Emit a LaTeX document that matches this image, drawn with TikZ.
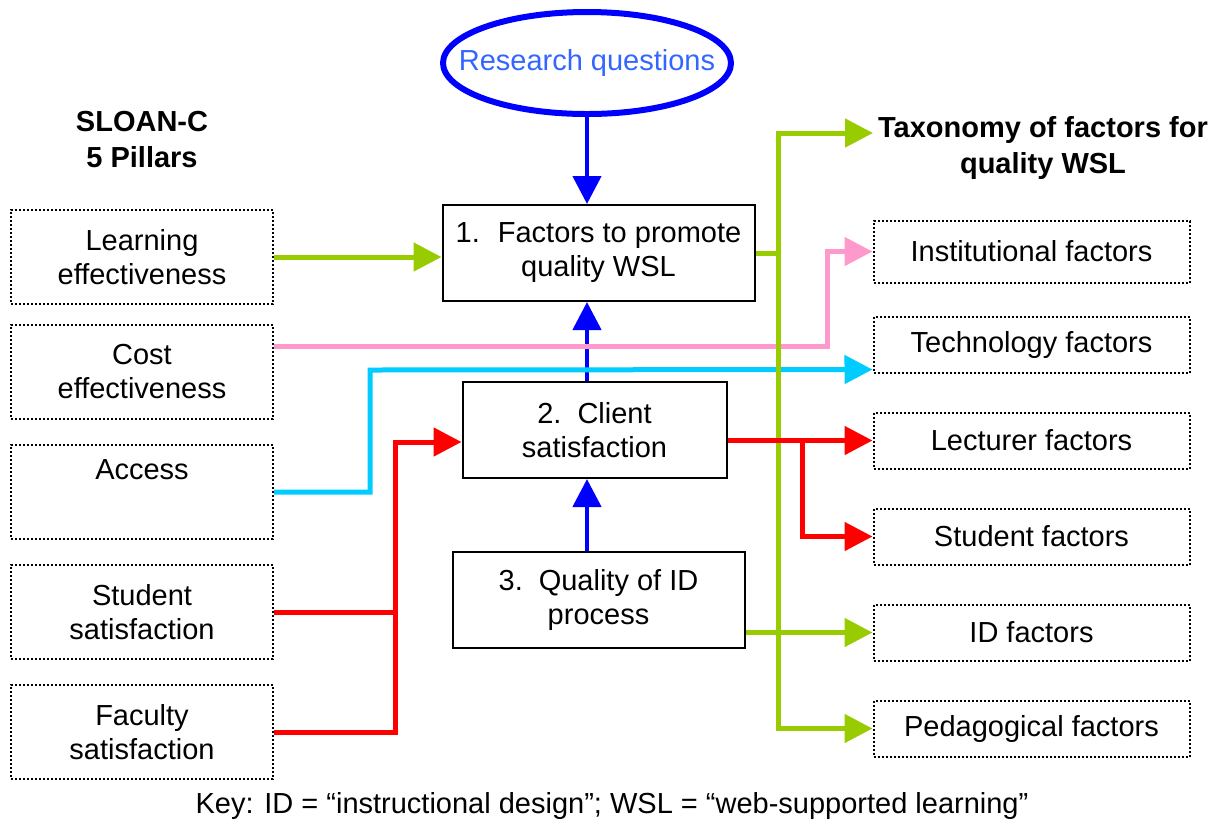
\documentclass[tikz,border=0pt]{standalone}
\usepackage{fontspec}
\setmainfont{Liberation Sans}
\usetikzlibrary{arrows.meta,shapes.geometric}
\definecolor{cgreen}{HTML}{99CC00}
\definecolor{cpink}{HTML}{FF99CC}
\definecolor{ccyan}{HTML}{00CCFF}
\definecolor{cred}{HTML}{FF0000}
\definecolor{cblue}{HTML}{0000FF}
\definecolor{ctext}{HTML}{3366FF}
\begin{document}
\begin{tikzpicture}[x=0.5pt,y=-0.5pt,
  every node/.style={font=\fontsize{14.5}{17}\selectfont, align=center, inner sep=0pt},
  titletext/.style={font=\fontsize{14.5}{18}\selectfont\bfseries},
  solidbox/.style={draw, line width=1pt, minimum height=48pt},
  dotbox/.style={draw, line width=1pt, dash pattern=on 1pt off 1pt, minimum width=131pt, minimum height=47pt},
  rbox/.style={draw, line width=1pt, dash pattern=on 1pt off 1pt, minimum width=158pt, minimum height=28pt},
  conn/.style={line width=2.5pt},
  tip/.style={-{Triangle[length=14pt,width=14pt]}}
]
\useasboundingbox (0,0) rectangle (1223,827);

% left column
\node[titletext] (sloan) at (142,140) {SLOAN-C\\5 Pillars};
\node[dotbox] (le) at (142,257) {Learning\\effectiveness};
\node[dotbox] (ce) at (142,372) {Cost\\effectiveness};
\node[dotbox] (ac) at (142,492) {Access\\\strut};
\node[dotbox] (ss) at (142,612) {Student\\satisfaction};
\node[dotbox] (fs) at (142,732) {Faculty\\satisfaction};

% centre column
\node[ellipse, draw=cblue, line width=3pt, inner xsep=-14pt, inner ysep=0pt, minimum width=144pt, minimum height=51pt, text=ctext] (rq) at (587,63) {Research questions};
\node[solidbox, minimum width=156pt] (b1) at (598.5,253) {1.\hspace{9pt}Factors to promote\\quality WSL};
\node[solidbox, minimum width=132pt] (b2) at (594.5,430) {2.\hspace{8pt}Client\\satisfaction};
\node[solidbox, minimum width=146pt] (b3) at (598.5,600) {3.\hspace{8pt}Quality of ID\\process};

% right column
\node[titletext] (tax) at (1043,148) {Taxonomy of factors for\\quality WSL};
\node[rbox, minimum height=31pt] (inst) at (1031.5,251.5) {Institutional factors};
\node[rbox] (tech) at (1031.5,344.5) {Technology factors};
\node[rbox] (lec) at (1031.5,440.5) {Lecturer factors};
\node[rbox] (stu) at (1031.5,536.5) {Student factors};
\node[rbox] (idf) at (1031.5,632.5) {ID factors};
\node[rbox] (ped) at (1031.5,728.5) {Pedagogical factors};

% key
\node (key) at (612,806) {Key: ID = “instructional design”; WSL = “web-supported learning”};

% helper coordinates
\coordinate (taxin) at (873,133);
\coordinate (gtop) at (778,133);
\coordinate (pkx) at (827,0);
\coordinate (cyx) at (370,370);
\coordinate (rj) at (395,442);
\coordinate (rb) at (802,0);

% blue arrows
\draw[cblue, line width=2.25pt, tip] (rq.south) -- (rq.south |- b1.north);
\draw[cblue, line width=2.25pt, tip] (rq.south |- b2.north) -- (rq.south |- b1.south);
\draw[cblue, line width=2.25pt, tip] (rq.south |- b3.north) -- (rq.south |- b2.south);

% pink
\draw[cpink, conn, tip] ([yshift=13pt]ce.east) -| (pkx |- inst.west) -- (inst.west);
% cyan
\draw[ccyan, conn, tip] (ac.east) -| (cyx) -- ([yshift=-12.5pt]tech.west);

% green
\draw[cgreen, conn, tip] (le.east) -- (le.east -| b1.west);
\draw[cgreen, conn, {Triangle[length=14pt,width=14pt]}-{Triangle[length=14pt,width=14pt]}] (taxin) -- (gtop) -- (gtop |- ped.west) -- (ped.west);
\draw[cgreen, conn] (b1.east) -- (b1.east -| gtop);
\draw[cgreen, conn, tip] (b3.east |- idf.west) -- (idf.west);

% red
\draw[cred, conn] (ss.east) -- (ss.east -| rj);
\draw[cred, conn, tip] (fs.east) -| (rj) -- ([yshift=-6pt]b2.west);
\draw[cred, conn, tip] (b2.east |- lec.west) -- (lec.west);
\draw[cred, conn, tip] (rb |- lec.west) |- (stu.west);
\end{tikzpicture}
\end{document}
